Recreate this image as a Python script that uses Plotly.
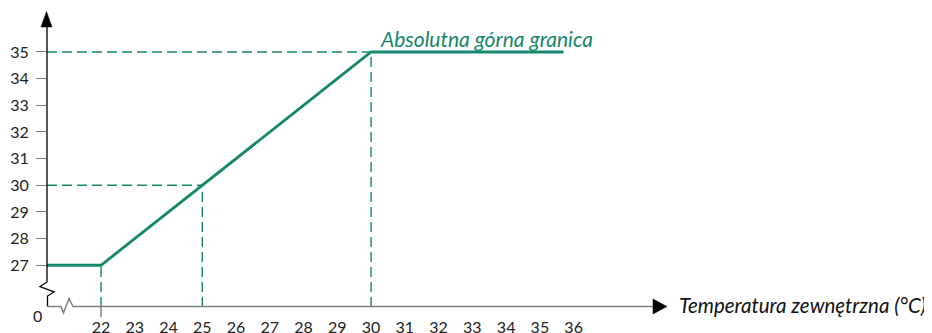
import plotly.graph_objects as go

# ---- data ----
x_ticks = [22, 23, 24, 25, 26, 27, 28, 29, 30, 31, 32, 33, 34, 35, 36]
y_ticks = [27, 28, 29, 30, 31, 32, 33, 34, 35]
line_x = [20.4, 22, 30, 35.7]
line_y = [27, 27, 35, 35]
guide_x = [22, 25, 30]          # vertical dashed guides
guide_y = [27, 30, 35]          # heights at those points
label_text = "Absolutna górna granica"
x_title = "Temperatura zewnętrzna (°C)"

X_MIN, X_MAX = 20.4, 38.765
Y_MIN, Y_MAX = 25.434, 36.50

GREEN = "#14876a"
FONT = "Lato"

W, H = 932, 333
OFF = 8  # page body margin offset
# plot area in screen pixels
L_PX, R_PX, T_PX, B_PX = 47, 667, 12, 307
ML, MT = L_PX - OFF, T_PX - OFF
MR, MB = W - (R_PX - OFF), H - (B_PX - OFF)
PW, PH = R_PX - L_PX, B_PX - T_PX


def px(x):  # screen pixel -> paper
    return (x - L_PX) / PW


def py(y):
    return (B_PX - y) / PH


fig = go.Figure()

# dashed guides
for gx, gy in zip(guide_x, guide_y):
    fig.add_trace(go.Scatter(x=[gx, gx], y=[Y_MIN, gy], mode="lines",
                             line=dict(color=GREEN, width=1.4, dash="10px,5px"),
                             hoverinfo="skip", showlegend=False))
for gx, gy in zip(guide_x[1:], guide_y[1:]):
    fig.add_trace(go.Scatter(x=[X_MIN, gx], y=[gy, gy], mode="lines",
                             line=dict(color=GREEN, width=1.4, dash="10px,5px"),
                             hoverinfo="skip", showlegend=False))

# main line
fig.add_trace(go.Scatter(x=line_x, y=line_y, mode="lines",
                         line=dict(color=GREEN, width=2.8),
                         hoverinfo="skip", showlegend=False))

AX_Y = 306.5
shapes = []
# y axis with break (black)
ypath = (f"M {px(47)},{py(26)} L {px(47)},{py(282)} L {px(40)},{py(286.5)} "
         f"L {px(54)},{py(292)} L {px(47.5)},{py(296)} L {px(47.5)},{py(AX_Y)}")
shapes.append(dict(type="path", xref="paper", yref="paper", path=ypath,
                   line=dict(color="black", width=1.3)))
# x axis with break (gray)
xpath = (f"M {px(47.5)},{py(AX_Y)} L {px(61)},{py(AX_Y)} L {px(63.5)},{py(313)} "
         f"L {px(69)},{py(298.5)} L {px(73)},{py(AX_Y)} L {px(655)},{py(AX_Y)}")
shapes.append(dict(type="path", xref="paper", yref="paper", path=xpath,
                   line=dict(color="#7f7f7f", width=1.5)))
# arrowheads
shapes.append(dict(type="path", xref="paper", yref="paper",
                   path=f"M {px(46.5)},{py(11.5)} L {px(41)},{py(27)} L {px(52)},{py(27)} Z",
                   fillcolor="black", line=dict(color="black", width=0.5)))
shapes.append(dict(type="path", xref="paper", yref="paper",
                   path=f"M {px(667)},{py(AX_Y)} L {px(653)},{py(299)} L {px(653)},{py(314)} Z",
                   fillcolor="black", line=dict(color="black", width=0.5)))
# single tick at 22
shapes.append(dict(type="line", xref="x", yref="paper", x0=x_ticks[0], x1=x_ticks[0],
                   y0=py(AX_Y), y1=py(317), line=dict(color="#7f7f7f", width=1.5)))

annotations = [
    dict(x=px(378), y=py(38), xref="paper", yref="paper", text=f"<i>{label_text}</i>",
         showarrow=False, xanchor="left", yanchor="middle",
         font=dict(family=FONT, size=21, color=GREEN)),
    dict(x=px(677), y=py(305), xref="paper", yref="paper", text=f"<i>{x_title}</i>",
         showarrow=False, xanchor="left", yanchor="middle",
         font=dict(family=FONT, size=20.5, color="#111111")),
    dict(x=px(37.3), y=py(315), xref="paper", yref="paper", text="0", showarrow=False,
         xanchor="center", yanchor="middle", font=dict(family=FONT, size=16, color="#222222")),
]

fig.update_layout(
    width=W, height=H, margin=dict(l=ML, r=MR, t=MT, b=MB, pad=0, autoexpand=False),
    paper_bgcolor="white", plot_bgcolor="white",
    shapes=shapes, annotations=annotations,
    xaxis=dict(range=[X_MIN, X_MAX], tickvals=x_ticks, ticks="", showgrid=False,
               zeroline=False, showline=False, ticklabelstandoff=9, automargin=False,
               tickfont=dict(family=FONT, size=16, color="#222222")),
    yaxis=dict(range=[Y_MIN, Y_MAX], tickvals=y_ticks, ticks="outside", ticklen=10,
               tickcolor="#7f7f7f", tickwidth=1.3, showgrid=False, zeroline=False,
               showline=False, ticklabelstandoff=4, automargin=False,
               tickfont=dict(family=FONT, size=16, color="#222222")),
)

fig.write_html("out.html")
